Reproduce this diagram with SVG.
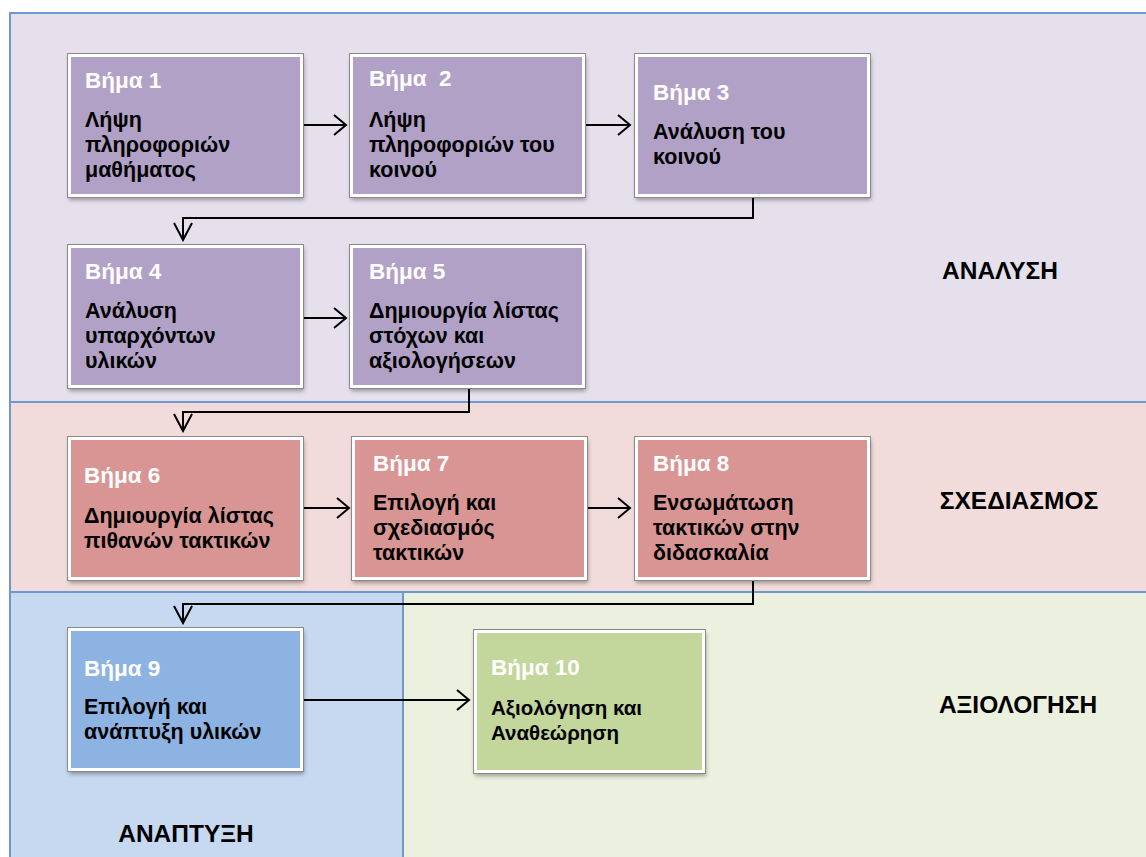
<svg xmlns="http://www.w3.org/2000/svg" width="1146" height="857" viewBox="0 0 1146 857">
  <style>
    .panel { stroke: #6f98d2; stroke-width: 2; }
    .box { stroke: #ffffff; stroke-width: 3; filter: url(#shadow); }
    .edge { fill: none; stroke: #8a8a8a; stroke-width: 1; }
    .purple { fill: #b2a1c7; }
    .red { fill: #d99594; }
    .blue { fill: #8db3e2; }
    .green { fill: #c3d69b; }
    text { font-family: "Liberation Sans", Arial, sans-serif; font-weight: bold; white-space: pre; }
    .title { fill: #ffffff; font-size: 22.5px; }
    .body { fill: #000000; font-size: 21.5px; }
    .small { font-size: 20.5px; }
    .phase { fill: #000000; font-size: 24.5px; text-anchor: middle; }
    .conn { fill: none; stroke: #000000; stroke-width: 2; }
  </style>
  <defs>
    <filter id="shadow" x="-10%" y="-10%" width="125%" height="130%">
      <feDropShadow dx="1" dy="3" stdDeviation="2" flood-color="#000000" flood-opacity="0.35"/>
    </filter>
    <marker id="head" markerUnits="userSpaceOnUse" markerWidth="16" markerHeight="24" refX="13" refY="11" orient="auto">
      <path d="M1,1 L13,11 L1,21" fill="none" stroke="#000000" stroke-width="2"/>
    </marker>
    <marker id="headDown" markerUnits="userSpaceOnUse" markerWidth="20" markerHeight="22" refX="18" refY="10" orient="auto">
      <path d="M1,1 L18,10 L1,19" fill="none" stroke="#000000" stroke-width="2"/>
    </marker>
  </defs>

  <rect width="1146" height="857" fill="#ffffff"/>

  <!-- phase panels -->
  <g id="phases">
    <rect class="panel" x="10" y="13" width="1140" height="389" fill="#e5e0ec"/>
    <rect class="panel" x="10" y="402" width="1140" height="190" fill="#f2dcdb"/>
    <rect class="panel" x="10" y="592" width="393" height="270" fill="#c6d9f1"/>
    <rect class="panel" x="403" y="592" width="747" height="270" fill="#ebf1de"/>
    <text class="phase" x="1000" y="279">ΑΝΑΛΥΣΗ</text>
    <text class="phase" x="1019" y="509">ΣΧΕΔΙΑΣΜΟΣ</text>
    <text class="phase" x="1018" y="713">ΑΞΙΟΛΟΓΗΣΗ</text>
    <text class="phase" x="186" y="842">ΑΝΑΠΤΥΞΗ</text>
  </g>

  <!-- connectors -->
  <g id="connectors">
    <path class="conn" d="M303,125 H346" marker-end="url(#head)"/>
    <path class="conn" d="M585,125 H630" marker-end="url(#head)"/>
    <path class="conn" d="M753,197 V218 H183 V240" marker-end="url(#headDown)"/>
    <path class="conn" d="M303,318 H346" marker-end="url(#head)"/>
    <path class="conn" d="M469,388 V412 H183 V431" marker-end="url(#headDown)"/>
    <path class="conn" d="M303,508 H349" marker-end="url(#head)"/>
    <path class="conn" d="M587,508 H630" marker-end="url(#head)"/>
    <path class="conn" d="M753,580 V604 H183 V623" marker-end="url(#headDown)"/>
    <path class="conn" d="M303,700 H469" marker-end="url(#head)"/>
  </g>

  <!-- step 1 -->
  <g id="step1">
    <rect class="box purple" x="69.500" y="55.500" width="232" height="140"/>
    <rect class="edge" x="67.500" y="53.500" width="236" height="144"/>
    <text class="title" x="85" y="88">Βήμα 1</text>
    <text class="body" x="85" y="127">Λήψη</text>
    <text class="body" x="85" y="152">πληροφοριών</text>
    <text class="body" x="85" y="177">μαθήματος</text>
  </g>

  <!-- step 2 -->
  <g id="step2">
    <rect class="box purple" x="351.500" y="55.500" width="232" height="140"/>
    <rect class="edge" x="349.500" y="53.500" width="236" height="144"/>
    <text class="title" x="369" y="86">Βήμα  2</text>
    <text class="body" x="369" y="127">Λήψη</text>
    <text class="body" x="369" y="152">πληροφοριών του</text>
    <text class="body" x="369" y="177">κοινού</text>
  </g>

  <!-- step 3 -->
  <g id="step3">
    <rect class="box purple" x="636.500" y="55.500" width="232" height="140"/>
    <rect class="edge" x="634.500" y="53.500" width="236" height="144"/>
    <text class="title" x="653" y="100">Βήμα 3</text>
    <text class="body" x="653" y="139">Ανάλυση του</text>
    <text class="body" x="653" y="164">κοινού</text>
  </g>

  <!-- step 4 -->
  <g id="step4">
    <rect class="box purple" x="69.500" y="246.500" width="232" height="140"/>
    <rect class="edge" x="67.500" y="244.500" width="236" height="144"/>
    <text class="title" x="85" y="279">Βήμα 4</text>
    <text class="body" x="85" y="318">Ανάλυση</text>
    <text class="body" x="85" y="343">υπαρχόντων</text>
    <text class="body" x="85" y="368">υλικών</text>
  </g>

  <!-- step 5 -->
  <g id="step5">
    <rect class="box purple" x="351.500" y="246.500" width="232" height="140"/>
    <rect class="edge" x="349.500" y="244.500" width="236" height="144"/>
    <text class="title" x="369" y="279">Βήμα 5</text>
    <text class="body" x="369" y="318">Δημιουργία λίστας</text>
    <text class="body" x="369" y="343">στόχων και</text>
    <text class="body" x="369" y="368">αξιολογήσεων</text>
  </g>

  <!-- step 6 -->
  <g id="step6">
    <rect class="box red" x="69.500" y="438.500" width="232" height="140"/>
    <rect class="edge" x="67.500" y="436.500" width="236" height="144"/>
    <text class="title" x="84" y="483">Βήμα 6</text>
    <text class="body" x="84" y="523">Δημιουργία λίστας</text>
    <text class="body" x="84" y="548">πιθανών τακτικών</text>
  </g>

  <!-- step 7 -->
  <g id="step7">
    <rect class="box red" x="353.500" y="438.500" width="232" height="140"/>
    <rect class="edge" x="351.500" y="436.500" width="236" height="144"/>
    <text class="title" x="373" y="471">Βήμα 7</text>
    <text class="body" x="373" y="510">Επιλογή και</text>
    <text class="body" x="373" y="535">σχεδιασμός</text>
    <text class="body" x="373" y="560">τακτικών</text>
  </g>

  <!-- step 8 -->
  <g id="step8">
    <rect class="box red" x="636.500" y="438.500" width="232" height="140"/>
    <rect class="edge" x="634.500" y="436.500" width="236" height="144"/>
    <text class="title" x="653" y="471">Βήμα 8</text>
    <text class="body" x="653" y="510">Ενσωμάτωση</text>
    <text class="body" x="653" y="535">τακτικών στην</text>
    <text class="body" x="653" y="560">διδασκαλία</text>
  </g>

  <!-- step 9 -->
  <g id="step9">
    <rect class="box blue" x="69.500" y="629.500" width="232" height="140"/>
    <rect class="edge" x="67.500" y="627.500" width="236" height="144"/>
    <text class="title" x="84" y="676">Βήμα 9</text>
    <text class="body" x="84" y="714">Επιλογή και</text>
    <text class="body" x="84" y="739">ανάπτυξη υλικών</text>
  </g>

  <!-- step 10 -->
  <g id="step10">
    <rect class="box green" x="475.500" y="631.500" width="228" height="140"/>
    <rect class="edge" x="473.500" y="629.500" width="232" height="144"/>
    <text class="title" x="491" y="675">Βήμα 10</text>
    <text class="body small" x="491" y="715">Αξιολόγηση και</text>
    <text class="body small" x="491" y="740">Αναθεώρηση</text>
  </g>
</svg>
